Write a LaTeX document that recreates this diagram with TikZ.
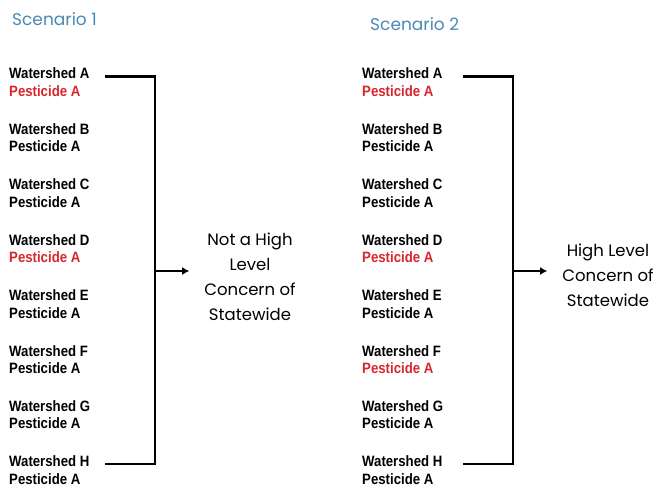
\documentclass[tikz,border=0pt]{standalone}
\usepackage{fontspec}
\setmainfont{Liberation Sans}
\newfontfamily\wsfont{Liberation Sans Bold}[FakeStretch=0.88]
\newfontfamily\gothfont{Poppins}
\usetikzlibrary{arrows.meta}
\definecolor{pestred}{RGB}{216,38,44}
\definecolor{scenblue}{RGB}{74,137,180}
\tikzset{
  ws/.style={anchor=base west, inner sep=0pt, font=\wsfont\fontsize{15}{18}\selectfont},
  scen/.style={anchor=base west, inner sep=0pt, text=scenblue, font=\gothfont\fontsize{17}{20}\selectfont},
  verdict/.style={align=center, inner xsep=15pt, inner ysep=0pt, font=\gothfont\fontsize{16.5}{25}\selectfont},
  bracket/.style={line width=2.6pt, line join=miter},
  arr/.style={line width=2.6pt, -{Latex[length=7pt,width=8pt]}}
}
\begin{document}
\begin{tikzpicture}[x=1pt,y=-1pt]
	\useasboundingbox (0,0) rectangle (654,487);
	\node[scen] (title1) at (12,26) {Scenario 1};
	\node[scen] (title2) at (370,31) {Scenario 2};
	% scenario 1
	\foreach \i/\l/\c in {1/A/pestred, 2/B/black, 3/C/black, 4/D/pestred, 5/E/black, 6/F/black, 7/G/black, 8/H/black}
	{
		\node[ws] (la\i) at (9,{79+55.4*(\i-1)}) {Watershed \l};
		\node[ws,text=\c] (pa\i) at (9,{96.5+55.4*(\i-1)}) {Pesticide A};
	}
	% scenario 2
	\foreach \i/\l/\c in {1/A/pestred, 2/B/black, 3/C/black, 4/D/pestred, 5/E/black, 6/F/pestred, 7/G/black, 8/H/black}
	{
		\node[ws] (lb\i) at (362,{79+55.4*(\i-1)}) {Watershed \l};
		\node[ws,text=\c] (pb\i) at (362,{96.5+55.4*(\i-1)}) {Pesticide A};
	}
	\coordinate (s1) at (155,271);
	\coordinate (s2) at (513,271);
	\node[verdict] (c1) at (250,277) {Not a High\\Level\\Concern of\\Statewide};
	\node[verdict] (c2) at (608,275) {High Level\\Concern of\\Statewide};
	\draw[bracket] ([xshift=15pt]la1.mid east) -| (s1) |- ([xshift=15pt]la8.mid east);
	\draw[bracket] ([xshift=20pt]lb1.mid east) -| (s2) |- ([xshift=20pt]lb8.mid east);
	\draw[arr] (s1) -- (s1 -| c1.west);
	\draw[arr] (s2) -- (s2 -| c2.west);
\end{tikzpicture}
\end{document}
